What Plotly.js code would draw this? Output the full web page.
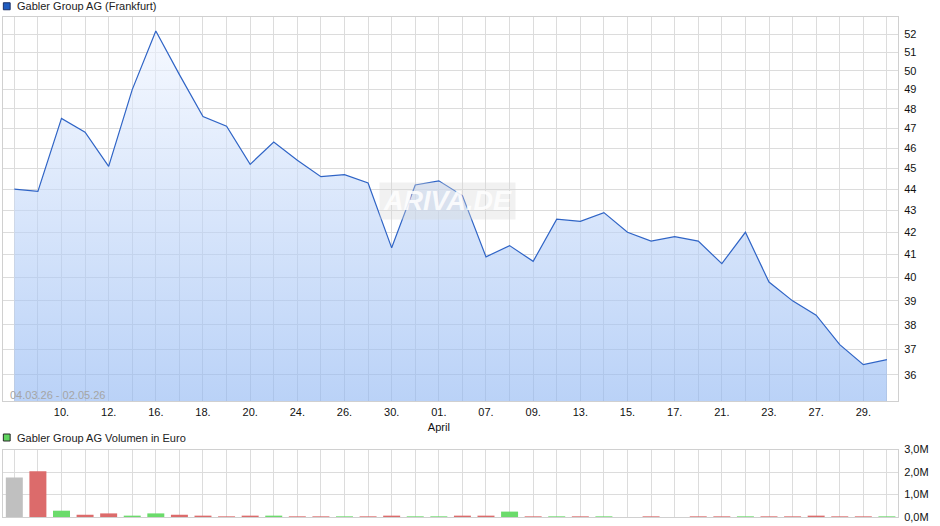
<!DOCTYPE html>
<html>
<head>
<meta charset="utf-8">
<script src="https://cdn.plot.ly/plotly-3.0.1.min.js"></script>
<style>
  html, body { margin: 0; padding: 0; background: #fff; }
  #chart { width: 940px; height: 526px; }
</style>
</head>
<body>
<div id="chart"></div>
<script>
// ---- data ----
var dates = ["04.03.","09.03.","10.03.","11.03.","12.03.","13.03.","16.03.","17.03.","18.03.","19.03.",
             "20.03.","23.03.","24.03.","25.03.","26.03.","27.03.","30.03.","31.03.","01.04.","02.04.",
             "07.04.","08.04.","09.04.","10.04.","13.04.","14.04.","15.04.","16.04.","17.04.","20.04.",
             "21.04.","22.04.","23.04.","24.04.","27.04.","28.04.","29.04.","30.04."];
var prices = [44.0,43.9,47.5,46.8,45.1,49.0,52.2,49.8,47.6,47.1,
              45.2,46.3,45.4,44.6,44.7,44.3,41.3,44.2,44.4,43.7,
              40.9,41.4,40.7,42.6,42.5,42.9,42.0,41.6,41.8,41.6,
              40.6,42.0,39.8,39.0,38.4,37.2,36.4,36.6];
var volumes = [1760000,2030000,280000,100000,160000,60000,160000,100000,60000,30000,
               60000,60000,30000,30000,30000,30000,60000,30000,30000,60000,
               60000,240000,30000,30000,30000,30000,0,30000,0,30000,
               30000,30000,30000,30000,60000,30000,30000,30000];
var xTickText = ["","","10.","","12.","","16.","","18.","",
                 "20.","","24.","","26.","","30.","","01.<br>April","",
                 "07.","","09.","","13.","","15.","","17.","",
                 "21.","","23.","","27.","","29.",""];
var priceTicks = [36,37,38,39,40,41,42,43,44,45,46,47,48,49,50,51,52];
var priceRange = [35, 53];
var volTicks = [0,1000000,2000000,3000000];
var volTickText = ["0,0M","1,0M","2,0M","3,0M"];
var titlePrice = "Gabler Group AG (Frankfurt)";
var titleVol = "Gabler Group AG Volumen in Euro";
var periodText = "04.03.26 - 02.05.26";

// bar colours derived from price direction
var barColors = prices.map(function(p, i) {
  if (i === 0) return "#c0c0c0";
  return p >= prices[i-1] ? "#6bdb6b" : "#dc6b6b";
});

var FONT = "Liberation Sans, Arial, sans-serif";
var GRID = "#dcdcdc";

var traces = [
  {
    type: "scatter", mode: "lines",
    x: dates, y: prices,
    xaxis: "x", yaxis: "y",
    line: {color: "#2f64c6", width: 1.2},
    fill: "tozeroy",
    fillcolor: "rgba(170,200,245,0.6)",
    fillgradient: {
      type: "vertical",
      start: priceRange[0],
      stop: Math.max.apply(null, prices),
      colorscale: [[0, "rgba(140,180,242,0.6)"], [1, "rgba(240,245,255,0.6)"]]
    },
    hoverinfo: "skip"
  },
  {
    type: "bar",
    x: dates, y: volumes,
    xaxis: "x2", yaxis: "y2",
    marker: {color: barColors, line: {width: 0}},
    width: 0.72,
    hoverinfo: "skip"
  }
];

var xBase = {
  type: "category",
  categoryorder: "array",
  categoryarray: dates,
  range: [-0.48, 37.47],
  showgrid: true, gridcolor: GRID, gridwidth: 1,
  showline: true, mirror: true, linecolor: "#d0d0d0", linewidth: 1,
  zeroline: false,
  ticks: "",
  fixedrange: true
};

var layout = {
  width: 940, height: 526,
  margin: {l: 3, r: 42, t: 17, b: 9},
  paper_bgcolor: "#ffffff",
  plot_bgcolor: "#ffffff",
  showlegend: false,
  font: {family: FONT, size: 11, color: "#111"},
  xaxis: Object.assign({}, xBase, {
    anchor: "y",
    tickmode: "array",
    tickvals: dates,
    ticktext: xTickText,
    tickfont: {family: FONT, size: 11, color: "#111"},
    ticklabelstandoff: 1
  }),
  xaxis2: Object.assign({}, xBase, {
    anchor: "y2",
    matches: "x",
    showticklabels: false
  }),
  yaxis: {
    type: "log",
    domain: [0.232, 1],
    range: [Math.log10(priceRange[0]), Math.log10(priceRange[1])],
    side: "right",
    anchor: "x",
    tickmode: "array",
    tickvals: priceTicks,
    ticktext: priceTicks.map(String),
    tickfont: {family: FONT, size: 11, color: "#111"},
    showgrid: true, gridcolor: GRID, gridwidth: 1,
    showline: true, mirror: true, linecolor: "#d0d0d0",
    zeroline: false, ticks: "",
    ticklabelstandoff: 3,
    fixedrange: true
  },
  yaxis2: {
    domain: [0, 0.135],
    range: [0, 3000000],
    side: "right",
    anchor: "x2",
    tickmode: "array",
    tickvals: volTicks,
    ticktext: volTickText,
    tickfont: {family: FONT, size: 11, color: "#111"},
    showgrid: true, gridcolor: GRID, gridwidth: 1,
    showline: true, mirror: true, linecolor: "#d0d0d0",
    zeroline: false, ticks: "",
    ticklabelstandoff: 3,
    fixedrange: true
  },
  shapes: [
    {type: "rect", xref: "paper", yref: "paper", x0: 0.0004, x1: 0.0080, y0: 1.0145, y1: 1.0285,
     fillcolor: "#1f5cc0", line: {color: "#1a2f66", width: 1}},
    {type: "rect", xref: "paper", yref: "paper", x0: 0.0004, x1: 0.0080, y0: 0.152, y1: 0.166,
     fillcolor: "#5fd45f", line: {color: "#2a2a2a", width: 1}}
  ],
  annotations: [
    {text: titlePrice, xref: "paper", yref: "paper", x: 0.0134, y: 1.022,
     xanchor: "left", yanchor: "middle", showarrow: false,
     font: {family: FONT, size: 11, color: "#222"}},
    {text: titleVol, xref: "paper", yref: "paper", x: 0.0134, y: 0.159,
     xanchor: "left", yanchor: "middle", showarrow: false,
     font: {family: FONT, size: 11, color: "#222"}},
    {text: periodText, xref: "paper", yref: "paper", x: 0.0056, y: 0.244,
     xanchor: "left", yanchor: "middle", showarrow: false,
     font: {family: FONT, size: 11, color: "#a5a5a5"}},
    {text: "<b><i>ARIVA.DE</i></b>", xref: "paper", yref: "paper", x: 0.497, y: 0.632,
     xanchor: "center", yanchor: "middle", showarrow: false,
     bgcolor: "rgba(215,215,215,0.35)", borderpad: 3,
     font: {family: FONT, size: 27, color: "rgba(255,255,255,0.85)"}}
  ]
};

Plotly.newPlot("chart", traces, layout, {staticPlot: true, displayModeBar: false});
</script>
</body>
</html>
